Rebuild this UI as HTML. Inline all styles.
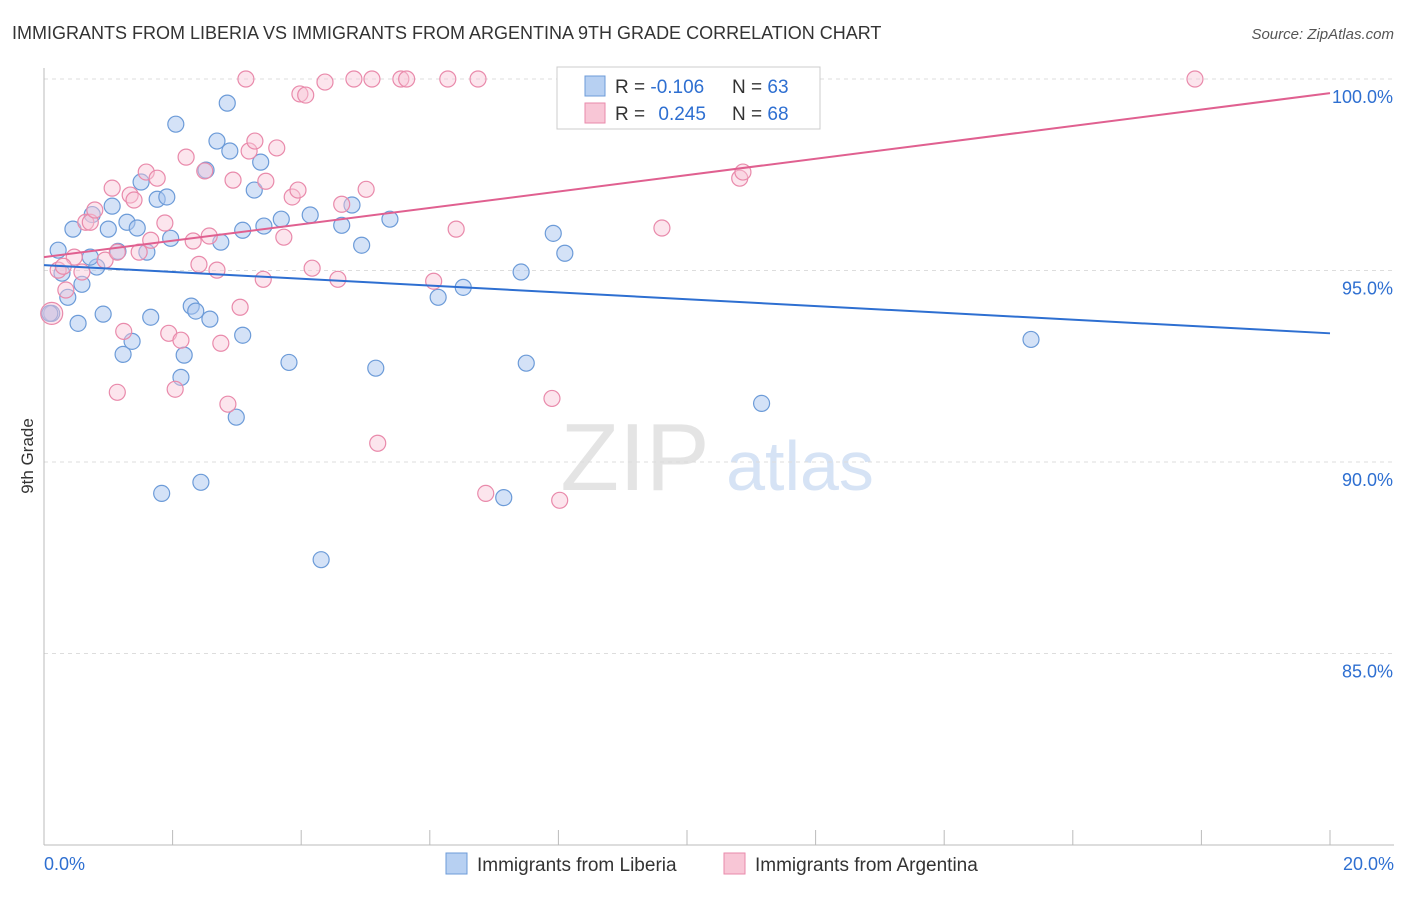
<!DOCTYPE html>
<html><head><meta charset="utf-8">
<style>
body{margin:0;background:#fff;font-family:"Liberation Sans",sans-serif;}
svg text{font-family:"Liberation Sans",sans-serif;}
</style></head>
<body>
<svg id="chart" width="1406" height="892" viewBox="0 0 1406 892">
<text x="12" y="39" font-size="18" fill="#333">IMMIGRANTS FROM LIBERIA VS IMMIGRANTS FROM ARGENTINA 9TH GRADE CORRELATION CHART</text>
<text x="1394" y="39" font-size="15" fill="#555" font-style="italic" text-anchor="end">Source: ZipAtlas.com</text>
<text x="33" y="456" font-size="17" fill="#333" transform="rotate(-90 33 456)" text-anchor="middle">9th Grade</text>
<g>
<text x="635" y="490" font-size="96" fill="#e4e4e4" text-anchor="middle" font-family="Liberation Serif">ZIP</text>
<text x="800" y="490" font-size="70" fill="#d6e3f5" text-anchor="middle">atlas</text>
</g>
<g id="grid"></g>
<g id="axes"></g>
<g id="points"></g>
<g id="lines"></g>
<g>
<rect x="557" y="67" width="263" height="62" fill="#fff" stroke="#ccc"/>
<rect x="585" y="76" width="20" height="20" fill="#b7d0f2" stroke="#6c9bd8"/>
<rect x="585" y="103" width="20" height="20" fill="#f8c6d6" stroke="#e98aab"/>
<text x="615" y="93" font-size="19" fill="#333">R = <tspan fill="#2e6fd1">-0.106</tspan></text>
<text x="732" y="93" font-size="19" fill="#333">N = <tspan fill="#2e6fd1">63</tspan></text>
<text x="615" y="120" font-size="19" fill="#333">R = <tspan fill="#2e6fd1" dx="8">0.245</tspan></text>
<text x="732" y="120" font-size="19" fill="#333">N = <tspan fill="#2e6fd1">68</tspan></text>
</g>
<g>
<rect x="446" y="853" width="21" height="21" fill="#b7d0f2" stroke="#6c9bd8"/>
<text x="477" y="871" font-size="19" fill="#333">Immigrants from Liberia</text>
<rect x="724" y="853" width="21" height="21" fill="#f8c6d6" stroke="#e98aab"/>
<text x="755" y="871" font-size="19" fill="#333">Immigrants from Argentina</text>
</g>
</svg>
<script>
const liberiaX=[.22,.45,.28,.37,.59,.53,.12,.82,.72,.92,1.00,1.06,1.15,1.23,1.29,1.37,1.45,1.51,1.60,1.66,1.76,1.91,1.97,2.05,2.13,2.18,2.29,2.36,2.44,1.83,2.52,2.58,2.69,2.75,2.85,2.89,2.99,3.09,3.09,3.27,3.37,3.42,3.69,3.81,4.14,4.31,4.63,4.79,4.94,5.16,5.38,6.13,6.52,7.15,7.42,7.50,7.92,8.10,11.16,15.35,9.39,.09,.75];
const liberiaY=[95.53,96.08,94.93,94.30,94.64,93.62,93.88,95.09,95.35,93.86,96.08,96.68,95.50,92.81,96.26,93.15,96.11,97.31,95.48,93.78,96.86,96.92,95.84,98.82,92.21,92.79,94.07,93.94,89.47,89.18,97.62,93.73,98.38,95.74,99.37,98.12,91.17,96.05,93.31,97.10,97.83,96.16,96.34,92.60,96.45,87.45,96.18,96.71,95.66,92.45,96.34,94.30,94.56,89.07,94.96,92.58,95.97,95.45,91.53,93.20,100,93.88,96.46];
const argentinaX=[.12,.22,.34,.47,.59,.65,.72,.79,.95,1.06,1.14,1.24,1.14,1.34,1.40,1.48,1.59,1.66,1.76,1.88,1.94,2.04,2.13,2.21,2.32,2.41,2.50,2.57,2.69,2.75,2.86,2.94,3.05,3.14,3.19,3.28,3.41,3.45,3.62,3.73,3.86,3.95,3.98,4.07,4.17,4.37,4.57,4.63,4.82,5.01,5.10,5.19,5.55,5.64,6.06,6.28,6.41,6.75,6.87,7.90,8.02,8.18,8.96,9.61,10.82,10.87,17.90,.30];
const argentinaY=[93.88,95.01,94.49,95.35,94.96,96.26,96.26,96.58,95.27,97.15,95.48,93.41,91.82,96.97,96.84,95.48,97.57,95.79,97.41,96.24,93.36,91.90,93.18,97.96,95.77,95.16,97.60,95.90,95.01,93.10,91.51,97.36,94.04,100,98.12,98.38,94.77,97.33,98.20,95.87,96.92,97.10,99.61,99.58,95.06,99.92,94.77,96.73,100,97.12,100,90.49,100,100,94.72,100,96.08,100,89.18,91.66,89.00,100,100,96.11,97.41,97.57,100,95.11];
const trendLiberia=[95.14,93.36];
const trendArgentina=[95.35,99.63];
const yTicks=[100,95,90,85];
const yTickLabels=["100.0%","95.0%","90.0%","85.0%"];
const xTicks=[0,2,4,6,8,10,12,14,16,18,20];

const NS="http://www.w3.org/2000/svg";
const X0=44,X1=1330,Y0=845,Y1=79;
const sx=v=>X0+(v-0)/20*(X1-X0);
const sy=v=>Y0-(v-80)/20*(Y0-Y1);
function mk(tag,attrs,parent){const e=document.createElementNS(NS,tag);for(const k in attrs)e.setAttribute(k,attrs[k]);document.getElementById(parent).appendChild(e);return e;}

yTicks.forEach((t,i)=>{
  const g=mk('line',{x1:X0,x2:1394,y1:sy(t),y2:sy(t),stroke:'#ddd','stroke-dasharray':'4,4'},'grid');
  
  
  const l=mk('text',{x:1393,y:sy(t)+24,'font-size':18,fill:'#2e6fd1','text-anchor':'end'},'grid');
  l.textContent=yTickLabels[i];
  
  
});
const ya=mk('line',{x1:X0,x2:X0,y1:68,y2:Y0,stroke:'#bbb'},'axes');


const xa=mk('line',{x1:X0,x2:1394,y1:Y0,y2:Y0,stroke:'#bbb'},'axes');


xTicks.forEach(t=>{
  const tk=mk('line',{x1:sx(t),x2:sx(t),y1:830,y2:Y0,stroke:'#bbb'},'axes');
  
  
});
const xl0=mk('text',{x:44,y:870,'font-size':18,fill:'#2e6fd1'},'axes');
xl0.textContent='0.0%';


const xl1=mk('text',{x:1394,y:870,'font-size':18,fill:'#2e6fd1','text-anchor':'end'},'axes');
xl1.textContent='20.0%';



liberiaX.forEach((x,i)=>{
  const c=mk('circle',{cx:sx(x),cy:sy(liberiaY[i]),r:8,fill:'rgba(169,198,239,0.5)',stroke:'#6c9bd8','stroke-width':1.2},'points');
  
  
});
argentinaX.forEach((x,i)=>{
  const c=mk('circle',{cx:sx(x),cy:sy(argentinaY[i]),r:i===0?11:8,fill:'rgba(248,198,214,0.45)',stroke:'#e98aab','stroke-width':1.2},'points');
  
  
});
const tl=mk('line',{x1:sx(0),x2:sx(20),y1:sy(trendLiberia[0]),y2:sy(trendLiberia[1]),stroke:'#2e6fd1','stroke-width':2},'lines');


const ta=mk('line',{x1:sx(0),x2:sx(20),y1:sy(trendArgentina[0]),y2:sy(trendArgentina[1]),stroke:'#e06090','stroke-width':2},'lines');


</script>
</body></html>
